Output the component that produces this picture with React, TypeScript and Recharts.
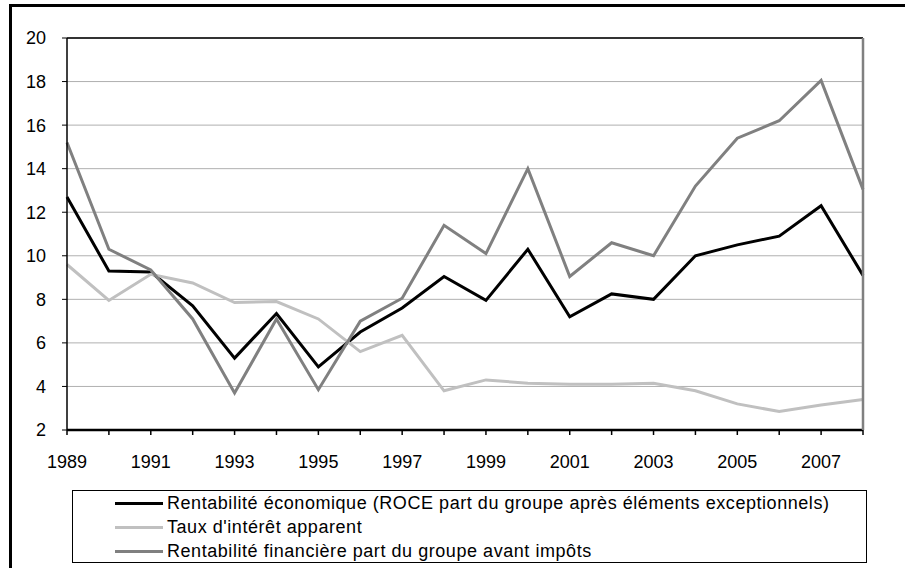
import React from 'react';
import { LineChart, Line, XAxis, YAxis, CartesianGrid, ReferenceLine, Legend } from 'recharts';

const years = [1989, 1990, 1991, 1992, 1993, 1994, 1995, 1996, 1997, 1998, 1999, 2000, 2001, 2002, 2003, 2004, 2005, 2006, 2007, 2008];
const roce = [12.7, 9.3, 9.25, 7.7, 5.3, 7.35, 4.9, 6.5, 7.6, 9.05, 7.95, 10.3, 7.2, 8.25, 8.0, 10.0, 10.5, 10.9, 12.3, 9.1];
const taux = [9.6, 7.95, 9.15, 8.75, 7.85, 7.9, 7.1, 5.6, 6.35, 3.8, 4.3, 4.15, 4.1, 4.1, 4.15, 3.8, 3.2, 2.85, 3.15, 3.4];
const fin = [15.2, 10.3, 9.35, 7.1, 3.7, 7.1, 3.85, 7.0, 8.05, 11.4, 10.1, 14.0, 9.05, 10.6, 10.0, 13.2, 15.4, 16.2, 18.05, 13.05];
const yTicks = [2, 4, 6, 8, 10, 12, 14, 16, 18, 20];

const seriesNames = [
  'Rentabilité économique (ROCE part du groupe après éléments exceptionnels)',
  "Taux d'intérêt apparent",
  'Rentabilité financière part du groupe avant impôts',
];
const seriesColors = ['#000000', '#c0c0c0', '#808080'];
const seriesKeys = ['roce', 'taux', 'fin'];

const data = years.map((y, i) => ({ year: y, roce: roce[i], taux: taux[i], fin: fin[i] }));

const FONT = "'Liberation Sans', Arial, sans-serif";
const tickStyle = { fill: '#000', fontSize: 18, fontFamily: FONT };

const LegendBox = () => (
  <div style={{ height: 78, width: 905, position: 'relative' }}>
    <div
      style={{
        position: 'absolute',
        left: 72,
        top: 0,
        width: 795,
        height: 73,
        border: '1px solid #000',
        boxSizing: 'border-box',
        background: '#fff',
      }}
    >
      {seriesNames.map((name, i) => (
        <div
          key={name}
          style={{
            position: 'absolute',
            left: 42,
            top: 1 + i * 24,
            height: 22,
            display: 'flex',
            alignItems: 'center',
            whiteSpace: 'nowrap',
          }}
        >
          <div style={{ width: 48, height: 3, background: seriesColors[i] }} />
          <span
            style={{
              marginLeft: 4,
              fontSize: 18,
              fontFamily: FONT,
              color: '#000',
              lineHeight: '22px',
              letterSpacing: '0.55px',
            }}
          >
            {name}
          </span>
        </div>
      ))}
    </div>
  </div>
);

export default function App() {
  return (
    <div style={{ position: 'absolute', left: 0, top: 0, width: 905, height: 568, overflow: 'hidden', background: '#fff' }}>
      <div
        style={{
          position: 'absolute',
          left: 9,
          top: 4,
          width: 1000,
          height: 1000,
          border: '3px solid #000',
          boxSizing: 'border-box',
        }}
      />
      <div style={{ position: 'absolute', left: 0, top: 0 }}>
        <LineChart width={905} height={568} data={data} margin={{ top: 38, right: 0, left: 0, bottom: 0 }}>
          <CartesianGrid vertical={false} stroke="#b0b0b0" strokeWidth={1} />
          <XAxis
            dataKey="year"
            type="number"
            domain={[1989, 2008]}
            ticks={years}
            interval={0}
            height={60}
            axisLine={{ stroke: '#000', strokeWidth: 2.5 }}
            tickLine={{ stroke: '#000', strokeWidth: 1.5 }}
            tickSize={5}
            tickMargin={20}
            tick={tickStyle}
            tickFormatter={(v: number) => (v % 2 === 1 ? String(v) : '')}
          />
          <YAxis
            domain={[2, 20]}
            ticks={yTicks}
            interval={0}
            width={67}
            axisLine={{ stroke: '#000', strokeWidth: 1.5 }}
            tickLine={{ stroke: '#000', strokeWidth: 1 }}
            tickSize={5}
            tickMargin={16}
            tick={tickStyle}
          />
          <YAxis
            yAxisId="right"
            orientation="right"
            domain={[2, 20]}
            ticks={yTicks}
            interval={0}
            width={42}
            axisLine={{ stroke: '#808080', strokeWidth: 2.5 }}
            tickLine={{ stroke: '#808080', strokeWidth: 1 }}
            tickSize={5}
            tickMargin={14}
            tick={tickStyle}
          />
          <ReferenceLine y={20} stroke="#333" strokeWidth={2} />
          {seriesKeys.map((k, i) => (
            <Line
              key={k}
              dataKey={k}
              name={seriesNames[i]}
              stroke={seriesColors[i]}
              strokeWidth={3}
              dot={false}
              activeDot={false}
              type="linear"
              isAnimationActive={false}
            />
          ))}
          <Legend verticalAlign="bottom" content={() => <LegendBox />} wrapperStyle={{ left: 0, width: 905 }} />
        </LineChart>
      </div>
    </div>
  );
}
